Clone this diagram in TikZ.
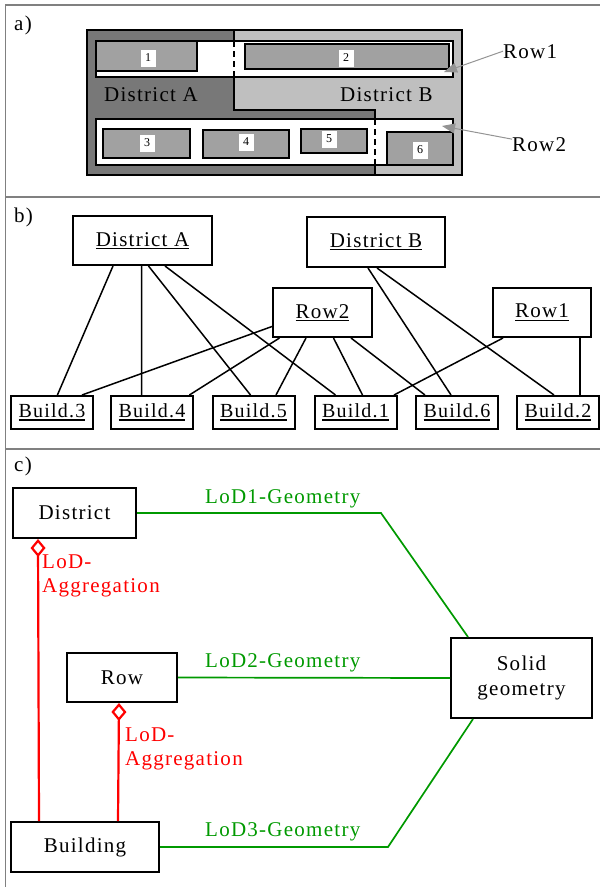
\documentclass[tikz,border=0pt]{standalone}
\usepackage{fontspec}
\setmainfont{Liberation Serif}[LetterSpace=6]
\usetikzlibrary{positioning, arrows.meta}

\newcommand{\undertext}[2][1.3pt]{\setbox0=\hbox{#2}\rlap{\rule[\dimexpr-1.6pt-#1\relax]{\wd0}{#1}}\box0}

\begin{document}
\begin{tikzpicture}[
        x=1pt, y=-1pt,
        txt/.style={font=\fontsize{21}{24}\selectfont},
        tag/.style={txt, inner sep=0pt, anchor=base west},
        panelframe/.style={draw=black!50, line width=1.2pt},
        bldg/.style={draw=black, line width=1.5pt, fill=black!37},
        rowband/.style={draw=black, line width=1.8pt, fill=white},
        border/.style={dashed, dash pattern=on 6pt off 4pt, line width=1.5pt},
        numlabel/.style={fill=white, inner sep=0pt, minimum width=15pt, minimum height=17pt, font=\fontsize{12}{14}\selectfont},
        pointer/.style={draw=black!42, line width=1pt, -{Triangle[length=13pt, width=10pt]}},
        objbox/.style={txt, draw, line width=2pt, inner sep=0pt},
        buildbox/.style={objbox, minimum width=82pt, minimum height=33pt, font=\fontsize{20}{24}\selectfont},
        link/.style={line width=1.5pt},
        aggr/.style={draw=red, line width=2.2pt, -{Diamond[open, length=18pt, width=15pt]}},
        geom/.style={draw=green!60!black, line width=1.7pt},
        redlabel/.style={txt, text=red, align=left, inner sep=0pt, anchor=north west},
        greenlabel/.style={txt, text=green!60!black, inner sep=0pt, anchor=base west},
    ]
    \useasboundingbox (0,0) rectangle (600,887);

        % Draw the panel frame
        \draw[panelframe] (600,5) -- (5.5,5) -- (5.5,887);
        \draw[panelframe] (5.5,197) -- (600,197);
        \draw[panelframe] (5.5,449) -- (600,449);
        \node[tag] (tag-a) at (14,30) {a)};
        \node[tag] (tag-b) at (14,222) {b)};
        \node[tag] (tag-c) at (14,471) {c)};

        % Draw the two districts
        \fill[black!53] (87,30) rectangle (462,175);
        \fill[black!25] (234,30) -- (462,30) -- (462,175) -- (375,175) -- (375,110) -- (234,110) -- cycle;
        \draw[line width=1.8pt] (234,30) -- (234,110) -- (375,110) -- (375,175);
        \draw[line width=1.8pt] (87,30) rectangle (462,175);

        % Draw the rows, the district border runs dashed through them
        \draw[rowband] (96,41) rectangle (453,77);
        \draw[rowband] (96,119) rectangle (453,165);
        \draw[border] (234,41) -- (234,77);
        \draw[border] (375,119) -- (375,165);

        % Draw the buildings
        \foreach \x / \y / \X / \Y in {96/41/197/71, 245/44/449/69, 103/129/190/158, 203/130/289/158, 301/129/367/153, 387/132/453/165}
            \draw[bldg] (\x,\y) rectangle (\X,\Y);
        \foreach \name / \x / \y in {1/148/58, 2/346/58, 3/147/143, 4/246/142, 5/329/139, 6/420/150}
            \node[numlabel] (N-\name) at (\x,\y) {\name};

        \node[tag] (lblA) at (104,101) {District A};
        \node[tag] (lblB) at (340,101) {District B};
        \node[tag] (row1lbl) at (503,58) {Row1};
        \node[tag] (row2lbl) at (512,151) {Row2};
        \coordinate (row1tip) at (444,72);
        \coordinate (row2tip) at (442,126);
        \draw[pointer] (row1lbl.west) -- (row1tip);
        \draw[pointer] ([yshift=5]row2lbl.west) -- (row2tip);

        % Draw the instance nodes
        \node[objbox, minimum width=139pt, minimum height=49pt] (DA) at (142.5,240.5) {\undertext{District A}};
        \node[objbox, minimum width=138pt, minimum height=50pt] (DB) at (376,242) {\undertext{District B}};
        \node[objbox, minimum width=99pt, minimum height=49pt] (R2) at (322.5,312.5) {\undertext{Row2}};
        \node[objbox, minimum width=98pt, minimum height=49pt] (R1) at (542,312.5) {\undertext{Row1}};
        \foreach \name / \x in {3/52, 4/152, 5/253.5, 1/355.5, 6/457, 2/558}
            \node[buildbox] (B-\name) at (\x,412.5) {\undertext[2.2pt]{Build.\name}};

        % Connect the districts with their buildings
        \foreach \src / \sx / \dst / \dx in {DA/-29.5/B-3/5.4, DA/-1/B-4/-10.4, DA/6/B-5/-3, DA/22.5/B-1/-20, DB/-8/B-6/-6, DB/1/B-2/-4}
            \draw[link] ([xshift=\sx]\src.south) -- ([xshift=\dx]\dst.north);

        % Connect the rows with their buildings
        \foreach \src / \sx / \dst / \dx in {R2/-43/B-4/37.4, R2/-16.5/B-5/22.5, R2/11/B-1/7, R2/28.5/B-6/-32, R1/-39/B-1/38.5, R1/38/B-2/22}
            \draw[link] ([xshift=\sx]\src.south) -- ([xshift=\dx]\dst.north);
        \draw[link] ([yshift=-14]R2.west) -- ([xshift=30]B-3.north);

        % Draw the classes
        \node[objbox, minimum width=123pt, minimum height=50pt] (District) at (74.5,513) {District};
        \node[objbox, minimum width=110pt, minimum height=49pt] (Row) at (122,677.5) {Row};
        \node[objbox, minimum width=148pt, minimum height=50pt] (Building) at (85,847) {Building};
        \node[objbox, minimum width=141pt, minimum height=80pt, align=center, font=\fontsize{21}{25}\selectfont] (Solid) at (521.5,678) {Solid\\geometry};

        % Aggregations
        \draw[aggr] ([xshift=-46]Building.north) -- ([xshift=-36.5]District.south);
        \draw[aggr] ([xshift=33]Building.north) -- ([xshift=-3]Row.south);
        \node[redlabel] (agg1) at (42,555) {LoD-\\Aggregation};
        \node[redlabel] (agg2) at (125,728) {LoD-\\Aggregation};

        % Geometry links
        \draw[geom] (District.east) -- ++(244,0) -- ([xshift=-53.5]Solid.north);
        \draw[geom] (Row.east) -- (Solid.west);
        \draw[geom] (Building.east) -- ++(228,0) -- ([xshift=-48.5]Solid.south);
        \node[greenlabel] (lod1) at (205,503) {LoD1-Geometry};
        \node[greenlabel] (lod2) at (205,667) {LoD2-Geometry};
        \node[greenlabel] (lod3) at (205,836) {LoD3-Geometry};
    \end{tikzpicture}
\end{document}
